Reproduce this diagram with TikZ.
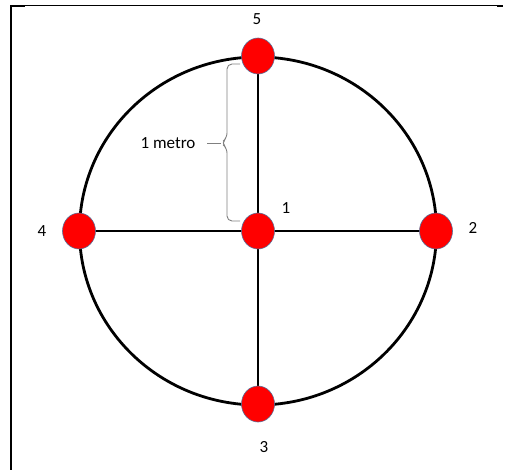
\documentclass[tikz,border=0pt]{standalone}
\usepackage{fontspec}
\setmainfont{Carlito}
\usetikzlibrary{shapes.geometric, backgrounds}

\begin{document}
\begin{tikzpicture}[x=1pt, y=-1pt,
  sensor/.style={ellipse, minimum width=33pt, minimum height=36pt,
                 inner sep=0pt, fill=red, draw={rgb,255:red,90;green,110;blue,150},
                 line width=0.6pt},
  numlab/.style={font=\fontsize{17}{20}\selectfont, inner sep=1pt},
  ring/.style={line width=2.8pt, draw=black},
  spoke/.style={line width=2.6pt, draw=black},
  bracket/.style={draw=gray, line width=0.9pt, rounded corners=5pt},
  frame/.style={draw=black},
]
\useasboundingbox (0,0) rectangle (505,470);

%% -- frame ----------------------------------------------------------
\draw[frame, line width=2pt] (11,470) -- (11,5);
\draw[frame, line width=1pt] (10,6) -- (503,6);
\draw[frame, line width=2pt] (10,6) -- (25,6);
\draw[frame, line width=2pt] (497,6) -- (503,6);

%% -- sensors --------------------------------------------------------
\node[sensor] (n1) at (258,231) {};
\node[sensor] (n2) at (436,231) {};
\node[sensor] (n3) at (258,404) {};
\node[sensor] (n4) at (79,231)  {};
\node[sensor] (n5) at (258,56)  {};

%% -- labels ---------------------------------------------------------
\node[numlab] (lab1) at (286,208) {1};
\node[numlab] (lab2) at (473,228) {2};
\node[numlab] (lab3) at (264,447) {3};
\node[numlab] (lab4) at (42,231)  {4};
\node[numlab] (lab5) at (257,19)  {5};

%% -- ring and spokes (behind the sensors) ----------------------------
\begin{scope}[on background layer]
  \draw[ring] (n1.center) ellipse [x radius=178.5pt, y radius=174pt];
  \draw[spoke] (n5.center) -- (n3.center);
  \draw[spoke] (n4.center) -- (n2.center);
\end{scope}

%% -- brace with "1 metro" --------------------------------------------
\coordinate (bt)  at (240,64);
\coordinate (bb)  at (240,221);
\coordinate (tip) at (221,143);
\node[numlab] (metro) at (168,143) {1 metro};
\draw[bracket] (bt) -- (227,64) -- (227,138) -- (tip) -- (227,148)
  -- (227,221) -- (bb);
\draw[draw=gray, line width=0.9pt, shorten >=10pt] (tip) -- (metro.east);

\end{tikzpicture}
\end{document}
